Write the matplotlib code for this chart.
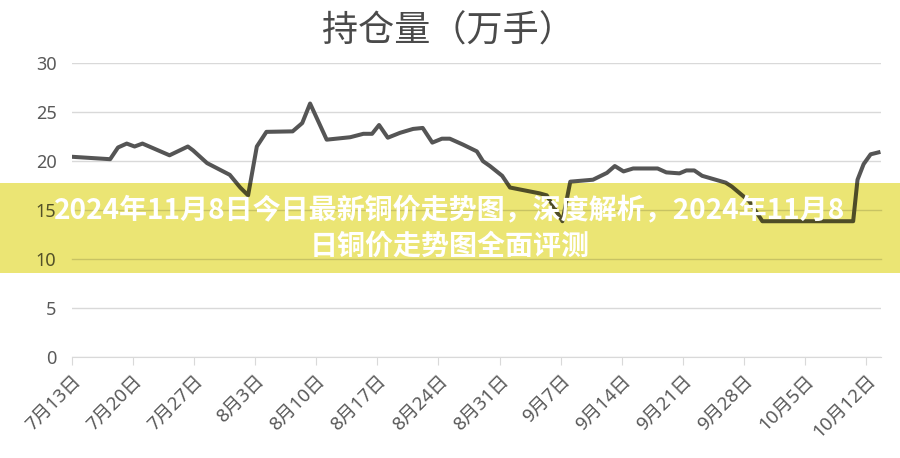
import numpy as np
import matplotlib
matplotlib.use("Agg")
import matplotlib.pyplot as plt
from matplotlib.patches import Rectangle
from matplotlib.transforms import Bbox, TransformedBbox

plt.rcParams['font.family'] = ['Noto Sans CJK SC', 'DejaVu Sans']

# days since 7月13日
days = [0.0, 4.4, 5.3, 6.3, 7.2, 8.1, 11.2, 13.3, 13.9, 15.5, 18.1, 19.3, 20.2,
        21.2, 22.3, 25.3, 26.4, 27.3, 29.2, 31.9, 33.4, 34.4, 35.2, 36.2, 37.6,
        39.1, 40.2, 41.3, 42.4, 43.3, 44.8, 46.4, 47.1, 47.9, 49.3, 50.2, 53.6,
        54.4, 56.2, 57.1, 59.7, 61.3, 62.2, 63.2, 64.3, 67.1, 68.1, 69.6, 70.4,
        71.3, 72.2, 74.9, 75.6, 77.6, 79.1, 89.5, 90.0, 90.7, 91.5, 92.4]
holdings = [20.45, 20.2, 21.4, 21.8, 21.5, 21.8, 20.6, 21.5, 21.1, 19.8, 18.6, 17.3, 16.5,
            21.5, 23.0, 23.05, 23.9, 25.9, 22.2, 22.45, 22.8, 22.8, 23.7, 22.4, 22.9,
            23.3, 23.4, 21.9, 22.3, 22.3, 21.7, 21.0, 20.0, 19.5, 18.5, 17.3, 16.7,
            16.5, 13.85, 17.9, 18.1, 18.8, 19.5, 18.95, 19.25, 19.25, 18.85, 18.75, 19.05,
            19.05, 18.5, 17.8, 17.4, 15.9, 13.85, 13.85, 18.1, 19.7, 20.7, 20.9]

tick_days = [0, 7, 14, 21, 28, 35, 42, 49, 56, 63, 70, 77, 84, 91]
tick_labels = ['7月13日', '7月20日', '7月27日', '8月3日', '8月10日', '8月17日', '8月24日',
               '8月31日', '9月7日', '9月14日', '9月21日', '9月28日', '10月5日', '10月12日']
y_ticks = [0, 5, 10, 15, 20, 25, 30]

chart_title = '持仓量（万手）'
banner_text = '2024年11月8日今日最新铜价走势图，深度解析，2024年11月8\n日铜价走势图全面评测'

line_col = '#555555'
grid_col = '#d9d9d9'
label_col = '#595959'
yellow = np.array([235, 229, 116]) / 255.0
tick_font = ['Noto Sans', 'Noto Sans CJK SC']

fig = plt.figure(figsize=(9, 4.58), dpi=100)
ax_pos = [0.0797, 0.2216, 0.8993, 0.6398]
ax = fig.add_axes(ax_pos)

ax.plot(days, holdings, color=line_col, lw=2.9, solid_joinstyle='round', zorder=3)
ax.set_xlim(0, 92.7)
ax.set_ylim(0, 30)
ax.set_yticks(y_ticks)
ax.set_xticks(tick_days)
ax.set_xticklabels(tick_labels, rotation=45, ha='right', rotation_mode='anchor',
                   family=tick_font)
for lab in ax.get_yticklabels():
    lab.set_family(tick_font)
ax.yaxis.grid(True, color=grid_col, lw=1)
ax.set_axisbelow(True)
for s in ['top', 'right', 'left']:
    ax.spines[s].set_visible(False)
ax.spines['bottom'].set_color(grid_col)
ax.tick_params(axis='y', length=0, pad=11, labelsize=13, labelcolor=label_col)
ax.tick_params(axis='x', length=6, color=grid_col, pad=5, labelsize=13.5, labelcolor=label_col)

fig.text(448 / 900, 1 - 32 / 458, chart_title, ha='center', va='center',
         fontsize=26, color='#4a4a4a')

# yellow banner; what lies under it is redrawn in darkened colours
b_bottom, b_top = 1 - 273 / 458, 1 - 183 / 458
banner = Rectangle((0, b_bottom), 1, b_top - b_bottom, transform=fig.transFigure,
                   facecolor=yellow, edgecolor='none', zorder=1)
fig.patches.append(banner)

ax2 = fig.add_axes(ax_pos, sharex=ax, sharey=ax)
ax2.set_zorder(2)
ax2.patch.set_visible(False)
for s in ax2.spines.values():
    s.set_visible(False)
clip_box = TransformedBbox(Bbox.from_extents(0, b_bottom, 1, b_top), fig.transFigure)
grid_mul = np.array([217, 217, 217]) / 255.0 * yellow
line_mul = np.array([85, 85, 85]) / 255.0 * yellow
lab_mul = np.array([89, 89, 89]) / 255.0 * yellow
for yv in [10, 15]:
    gl = ax2.axhline(yv, color=grid_mul, lw=1)
    gl.set_clip_box(clip_box)
ln, = ax2.plot(days, holdings, color=line_mul, lw=2.9, solid_joinstyle='round')
ln.set_clip_box(clip_box)
ax2.tick_params(axis='x', bottom=False, labelbottom=False)
ax2.tick_params(axis='y', length=0, pad=11, labelsize=13)
ax.set_xticks(tick_days)
ax.set_yticks(y_ticks)
for lab in ax2.get_yticklabels():
    lab.set_family(tick_font)
    lab.set_color(lab_mul if lab.get_text() in ('10', '15') else (0, 0, 0, 0))

fig.text(0.5, 1 - 229 / 458, banner_text, ha='center', va='center', fontsize=20.2,
         fontweight='bold', color='white', linespacing=1.35, zorder=5)

fig.savefig('out.png', dpi=100)
